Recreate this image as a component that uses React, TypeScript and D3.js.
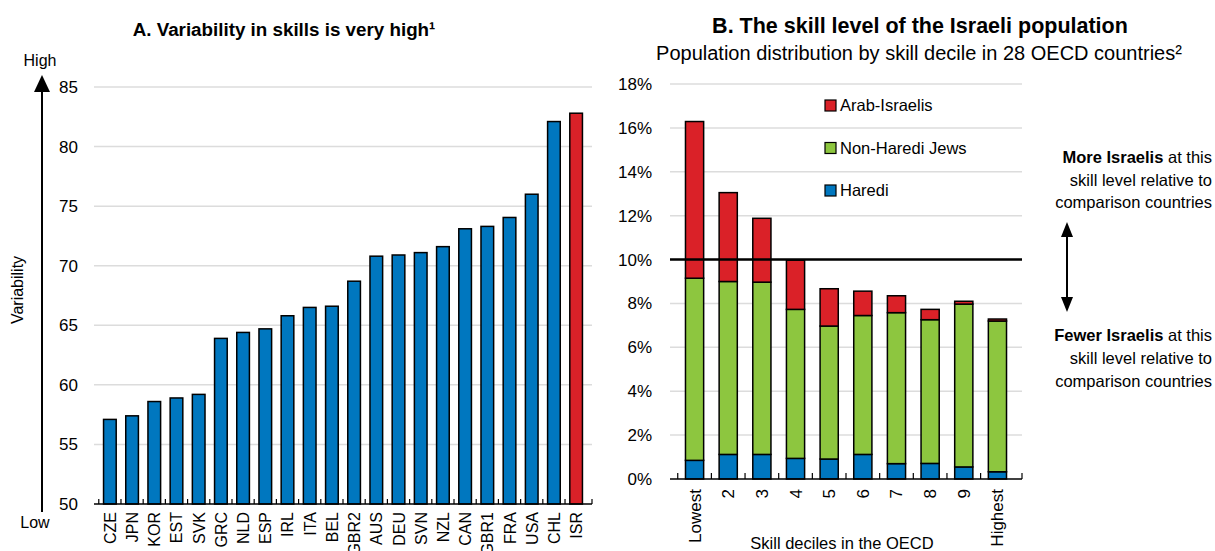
import React from "react";
import * as d3 from "d3";

// Panel A data
const countries = ["CZE", "JPN", "KOR", "EST", "SVK", "GRC", "NLD", "ESP", "IRL", "ITA", "BEL", "GBR2", "AUS", "DEU", "SVN", "NZL", "CAN", "GBR1", "FRA", "USA", "CHL", "ISR"];
const variability = [57.1, 57.4, 58.6, 58.9, 59.2, 63.9, 64.4, 64.7, 65.8, 66.5, 66.6, 68.7, 70.8, 70.9, 71.1, 71.6, 73.1, 73.3, 74.05, 76.0, 82.1, 82.8];
const yTicksA = [50, 55, 60, 65, 70, 75, 80, 85];

// Panel B data (% of population)
const deciles = ["Lowest", "2", "3", "4", "5", "6", "7", "8", "9", "Highest"];
const haredi = [0.85, 1.12, 1.12, 0.94, 0.91, 1.12, 0.7, 0.71, 0.55, 0.33];
const nonHarediJews = [8.3, 7.88, 7.85, 6.79, 6.06, 6.33, 6.88, 6.55, 7.42, 6.87];
const arabIsraelis = [7.14, 4.05, 2.91, 2.24, 1.7, 1.11, 0.77, 0.47, 0.13, 0.09];
const yTicksB = [0, 2, 4, 6, 8, 10, 12, 14, 16, 18];
const seriesKeys = ["haredi", "nonHaredi", "arab"];
const seriesLabels: Record<string, string> = { arab: "Arab-Israelis", nonHaredi: "Non-Haredi Jews", haredi: "Haredi" };

const BLUE = "#0077BF";
const RED = "#DA2128";
const GREEN = "#8DC63F";
const GRID = "#DCDCDC";
const FONT = "'Liberation Sans', Arial, sans-serif";

const colors: Record<string, string> = { haredi: BLUE, nonHaredi: GREEN, arab: RED };

const App: React.FC = () => {
  // Panel A scales
  const xA = d3.scaleBand<string>().domain(countries).range([94, 592]).padding(0.43);
  const yA = d3.scaleLinear().domain([50, 85]).range([504, 87]);

  // Panel B scales
  const xB = d3.scaleBand<string>().domain(deciles).range([670, 1022]).padding(0.46);
  const yB = d3.scaleLinear().domain([0, 18]).range([479, 84]);

  const rows = deciles.map((d, i) => ({
    decile: d,
    haredi: haredi[i],
    nonHaredi: nonHarediJews[i],
    arab: arabIsraelis[i],
  }));
  const stacked = d3.stack<any>().keys(seriesKeys)(rows);

  const stepA = xA.step();
  const stepB = xB.step();

  return (
    <svg
      width={1215}
      height={551}
      style={{ position: "absolute", left: 0, top: 0, background: "#fff" }}
      fontFamily={FONT}
    >
      {/* ---------- Panel A ---------- */}
      <text x={284} y={36} textAnchor="middle" fontSize={18.8} fontWeight="bold">
        A. Variability in skills is very high¹
      </text>

      {yTicksA.filter((t) => t > 50).map((t) => (
        <line key={"ga" + t} x1={94} x2={592} y1={yA(t)} y2={yA(t)} stroke={GRID} strokeWidth={1.5} />
      ))}
      {yTicksA.map((t) => (
        <text key={"ta" + t} x={78} y={yA(t) + 6} textAnchor="end" fontSize={17}>
          {t}
        </text>
      ))}

      {countries.map((c, i) => (
        <rect
          key={c}
          x={xA(c)}
          y={yA(variability[i])}
          width={xA.bandwidth()}
          height={yA(50) - yA(variability[i])}
          fill={c === "ISR" ? RED : BLUE}
          stroke="#000"
          strokeWidth={1.5}
        />
      ))}

      <line x1={94} x2={592} y1={yA(50)} y2={yA(50)} stroke="#000" strokeWidth={1.5} />
      {countries.map((c) => (
        <line
          key={"tka" + c}
          x1={(xA(c) as number) - (stepA - xA.bandwidth()) / 2}
          x2={(xA(c) as number) - (stepA - xA.bandwidth()) / 2}
          y1={yA(50)}
          y2={yA(50) - 5}
          stroke="#000"
          strokeWidth={1.2}
        />
      ))}
      <line x1={592} x2={592} y1={yA(50)} y2={yA(50) - 5} stroke="#000" strokeWidth={1.2} />
      {countries.map((c) => {
        const cx = (xA(c) as number) + xA.bandwidth() / 2 + 6;
        return (
          <text key={"la" + c} transform={`translate(${cx},512) rotate(-90)`} textAnchor="end" fontSize={16}>
            {c}
          </text>
        );
      })}

      {/* Variability arrow */}
      <line x1={42} x2={42} y1={512} y2={90} stroke="#000" strokeWidth={2} />
      <path d="M42,75 L34,92 L50,92 Z" fill="#000" />
      <text x={40} y={66} textAnchor="middle" fontSize={16}>High</text>
      <text x={35} y={528} textAnchor="middle" fontSize={16}>Low</text>
      <text transform="translate(23,290) rotate(-90)" textAnchor="middle" fontSize={16}>
        Variability
      </text>

      {/* ---------- Panel B ---------- */}
      <text x={920} y={33} textAnchor="middle" fontSize={21.5} fontWeight="bold">
        B. The skill level of the Israeli population
      </text>
      <text x={919} y={60} textAnchor="middle" fontSize={20}>
        Population distribution by skill decile in 28 OECD countries²
      </text>

      {yTicksB.filter((t) => t > 0).map((t) => (
        <line key={"gb" + t} x1={670} x2={1022} y1={yB(t)} y2={yB(t)} stroke={GRID} strokeWidth={1.5} />
      ))}
      {yTicksB.map((t) => (
        <text key={"tb" + t} x={652} y={yB(t) + 6} textAnchor="end" fontSize={17}>
          {t + "%"}
        </text>
      ))}

      {stacked.map((s) => (
        <g key={s.key}>
          {s.map((d: any, i: number) => (
            <rect
              key={s.key + i}
              x={xB(deciles[i])}
              y={yB(d[1])}
              width={xB.bandwidth()}
              height={yB(d[0]) - yB(d[1])}
              fill={colors[s.key]}
              stroke="#000"
              strokeWidth={1.5}
            />
          ))}
        </g>
      ))}

      <line x1={670} x2={1022} y1={yB(10)} y2={yB(10)} stroke="#000" strokeWidth={2.5} />

      <line x1={670} x2={1022} y1={yB(0)} y2={yB(0)} stroke="#000" strokeWidth={1.5} />
      {deciles.map((d) => (
        <line
          key={"tkb" + d}
          x1={(xB(d) as number) - (stepB - xB.bandwidth()) / 2}
          x2={(xB(d) as number) - (stepB - xB.bandwidth()) / 2}
          y1={yB(0)}
          y2={yB(0) - 6}
          stroke="#000"
          strokeWidth={1.2}
        />
      ))}
      <line x1={1022} x2={1022} y1={yB(0)} y2={yB(0) - 6} stroke="#000" strokeWidth={1.2} />
      {deciles.map((d) => {
        const cx = (xB(d) as number) + xB.bandwidth() / 2 + 6;
        return (
          <text key={"lb" + d} transform={`translate(${cx},489) rotate(-90)`} textAnchor="end" fontSize={17}>
            {d}
          </text>
        );
      })}
      <text x={842} y={549} textAnchor="middle" fontSize={16.5}>
        Skill deciles in the OECD
      </text>

      {/* Legend */}
      {["arab", "nonHaredi", "haredi"].map((k, i) => (
        <g key={"lg" + k} transform={`translate(825,${100 + i * 42.5})`}>
          <rect x={0} y={0} width={11} height={11} fill={colors[k]} stroke="#000" strokeWidth={1.2} />
          <text x={15} y={11} fontSize={16.5}>{seriesLabels[k]}</text>
        </g>
      ))}

      {/* Annotation */}
      <g fontSize={16.5} textAnchor="end">
        <text x={1212} y={163}>
          <tspan fontWeight="bold">More Israelis</tspan> at this
        </text>
        <text x={1212} y={186}>skill level relative to</text>
        <text x={1212} y={208}>comparison countries</text>
        <text x={1212} y={341}>
          <tspan fontWeight="bold">Fewer Israelis</tspan> at this
        </text>
        <text x={1212} y={364}>skill level relative to</text>
        <text x={1212} y={387}>comparison countries</text>
      </g>
      <line x1={1067} x2={1067} y1={234} y2={299} stroke="#000" strokeWidth={2} />
      <path d="M1067,222 L1061,237 L1073,237 Z" fill="#000" />
      <path d="M1067,312 L1061,297 L1073,297 Z" fill="#000" />
    </svg>
  );
};

export default App;
